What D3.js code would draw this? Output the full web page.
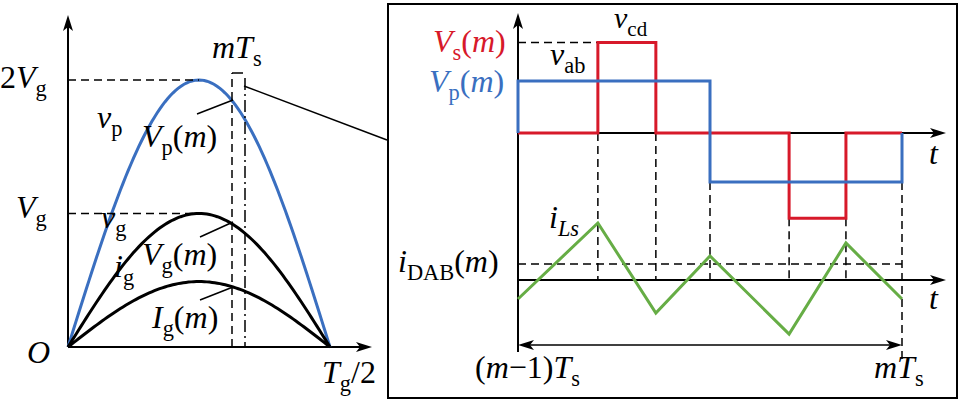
<!DOCTYPE html>
<html><head><meta charset="utf-8">
<script src="https://cdn.jsdelivr.net/npm/d3@7"></script>
<style>body{margin:0;background:#fff}text{font-family:"Liberation Serif",serif;}</style>
</head><body>
<svg id="c" width="963" height="402"></svg>
<script>
// ---- data ----
const leftCurves = ["vp","vg","ig"];
const leftPeaks = [2, 1, 0.49];          // in units of Vg
const leftColors = ["#3a6fc0","#000","#000"];
const tBreaks = [0, 0.208, 0.359, 0.5, 0.706, 0.854, 1]; // fraction of Ts
const vabVals = [1, 1, 1, -0.94, -0.94, -0.94];          // per segment
const vcdVals = [0, 1.74, 0, 0, -1.64, 0];               // per segment
const iLsVals = [-19, 57, -33, 24, -54, 37, -19];        // at breakpoints
const iDAB = 16;

const svg = d3.select("#c");
const RED="#d7192a", BLUE="#3a6fc0", GREEN="#66ad45";
const FS=32;
function arrow(g,x,y,dir){
  let p;
  if(dir==="up") p=[[x,y],[x-5,y+16],[x,y+12],[x+5,y+16]];
  else if(dir==="right") p=[[x,y],[x-16,y-5],[x-12,y],[x-16,y+5]];
  else p=[[x,y],[x+16,y-5],[x+12,y],[x+16,y+5]];
  g.append("path").attr("d",d3.line()(p)+"Z").attr("fill","#000");
}
function label(x,y,parts,color,size){
  const fs=size||FS;
  const t=svg.append("text").attr("x",x).attr("y",y).attr("fill",color||"#000").attr("font-size",fs);
  parts.forEach(p=>{
    const s=t.append("tspan").text(p.t);
    if(p.i) s.attr("font-style","italic");
    if(p.sub){ s.attr("font-size",fs*0.7).attr("dy",8); }
    if(p.up){ s.attr("dy",-8); }
  });
  return t;
}
// ---- left panel ----
const xL = d3.scaleLinear().domain([0,1]).range([68,330]);
const yL = d3.scaleLinear().domain([0,2]).range([347,80]);
const gL = svg.append("g");
gL.append("line").attr("x1",68).attr("x2",68).attr("y1",347).attr("y2",25).attr("stroke","#000").attr("stroke-width",2);
arrow(gL,68,15,"up");
gL.append("line").attr("x1",68).attr("x2",360).attr("y1",347).attr("y2",347).attr("stroke","#000").attr("stroke-width",2);
arrow(gL,372,347,"right");
const samples = d3.range(0,1.0001,0.01);
leftPeaks.forEach((a,k)=>{
  gL.append("path").attr("d",d3.line().x(u=>xL(u)).y(u=>yL(a*Math.sin(Math.PI*u)))(samples))
    .attr("fill","none").attr("stroke",leftColors[k]).attr("stroke-width",3);
});
[2,1].forEach(v=>gL.append("line").attr("x1",68).attr("x2",xL(0.5)).attr("y1",yL(v)).attr("y2",yL(v))
  .attr("stroke","#000").attr("stroke-width",1.5).attr("stroke-dasharray","8,5"));
gL.append("path").attr("d","M232,347 V73").attr("fill","none").attr("stroke","#000").attr("stroke-width",1.5).attr("stroke-dasharray","8,5");
gL.append("path").attr("d","M232,73 H243 M232,347 H245").attr("fill","none").attr("stroke","#000").attr("stroke-width",1.5);
gL.append("line").attr("x1",245).attr("x2",245).attr("y1",78).attr("y2",347).attr("stroke","#000").attr("stroke-width",1.5).attr("stroke-dasharray","12,4,2,4");
gL.append("line").attr("x1",244).attr("x2",387).attr("y1",86).attr("y2",140).attr("stroke","#000").attr("stroke-width",1.5);
[[197,114,233,100],[200,237,233,222],[200,300,233,287]].forEach(d=>
  gL.append("line").attr("x1",d[0]).attr("y1",d[1]).attr("x2",d[2]).attr("y2",d[3]).attr("stroke","#000").attr("stroke-width",1.5));
label(212,58,[{t:"m",i:1},{t:"T",i:1},{t:"s",sub:1}]);
label(0,88,[{t:"2"},{t:"V",i:1},{t:"g",sub:1}]);
label(16,218,[{t:"V",i:1},{t:"g",sub:1}]);
label(97,128,[{t:"v",i:1},{t:"p",sub:1}]);
label(142,147,[{t:"V",i:1},{t:"p",sub:1},{t:"(",up:1},{t:"m",i:1},{t:")"}]);
label(101,228,[{t:"v",i:1},{t:"g",sub:1}]);
label(142,265,[{t:"V",i:1},{t:"g",sub:1},{t:"(",up:1},{t:"m",i:1},{t:")"}]);
label(114,277,[{t:"i",i:1},{t:"g",sub:1}]);
label(152,328,[{t:"I",i:1},{t:"g",sub:1},{t:"(",up:1},{t:"m",i:1},{t:")"}]);
label(27,363,[{t:"O",i:1}]);
label(322,383,[{t:"T",i:1},{t:"g",sub:1},{t:"/2",up:1}]);
// ---- right panel ----
svg.append("rect").attr("x",388).attr("y",4).attr("width",569).attr("height",394).attr("fill","none").attr("stroke","#000").attr("stroke-width",2);
const xR = d3.scaleLinear().domain([0,1]).range([518,902]);
const yV = d3.scaleLinear().domain([0,1]).range([133,81]);
const yI = d3.scaleLinear().domain([0,10]).range([280,270]);
const gR = svg.append("g");
gR.append("line").attr("x1",518).attr("x2",518).attr("y1",352).attr("y2",25).attr("stroke","#000").attr("stroke-width",2);
arrow(gR,518,13,"up");
[133,280].forEach(y=>{gR.append("line").attr("x1",518).attr("x2",935).attr("y1",y).attr("y2",y).attr("stroke","#000").attr("stroke-width",2);arrow(gR,946,y,"right");});
const dash=(x1,y1,x2,y2)=>gR.append("line").attr("x1",x1).attr("y1",y1).attr("x2",x2).attr("y2",y2).attr("stroke","#000").attr("stroke-width",1.5).attr("stroke-dasharray","8,5");
dash(518,yV(vcdVals[1]),xR(tBreaks[1]),yV(vcdVals[1]));
dash(518,yI(iDAB),xR(1),yI(iDAB));
[[1,133],[2,133],[3,yV(vabVals[3])],[4,yV(vcdVals[4])],[5,yV(vcdVals[4])]].forEach(([k,y])=>dash(xR(tBreaks[k]),y,xR(tBreaks[k]),yI(0)));
dash(xR(1),yV(vabVals[5]),xR(1),360);
function stepPts(vals){const p=[];vals.forEach((v,k)=>{p.push([xR(tBreaks[k]),yV(v)]);p.push([xR(tBreaks[k+1]),yV(v)]);});return p;}
gR.append("path").attr("d",d3.line()([[xR(0),yV(0)],...stepPts(vcdVals),[xR(1),yV(0)]])).attr("fill","none").attr("stroke",RED).attr("stroke-width",3);
gR.append("path").attr("d",d3.line()([[xR(0),yV(0)],...stepPts(vabVals),[xR(1),yV(0)]])).attr("fill","none").attr("stroke",BLUE).attr("stroke-width",3);
gR.append("path").attr("d",d3.line().x((d,k)=>xR(tBreaks[k])).y(d=>yI(d))(iLsVals)).attr("fill","none").attr("stroke",GREEN).attr("stroke-width",3);
gR.append("line").attr("x1",530).attr("x2",890).attr("y1",345).attr("y2",345).attr("stroke","#000").attr("stroke-width",1.5);
arrow(gR,518,345,"left"); arrow(gR,902,345,"right");
label(433,52,[{t:"V",i:1},{t:"s",sub:1},{t:"(",up:1},{t:"m",i:1},{t:")"}],RED);
label(429,92,[{t:"V",i:1},{t:"p",sub:1},{t:"(",up:1},{t:"m",i:1},{t:")"}],BLUE);
label(550,65,[{t:"v",i:1},{t:"ab",sub:1}]);
label(614,28,[{t:"v",i:1},{t:"cd",sub:1}],null,30);
label(929,164,[{t:"t",i:1}]);
label(929,309,[{t:"t",i:1}]);
label(549,228,[{t:"i",i:1},{t:"Ls",sub:1,i:1}]);
label(398,272,[{t:"i",i:1},{t:"DAB",sub:1},{t:"(",up:1},{t:"m",i:1},{t:")"}]);
label(475,378,[{t:"("},{t:"m",i:1},{t:"−1)"},{t:"T",i:1},{t:"s",sub:1}]);
label(874,378,[{t:"m",i:1},{t:"T",i:1},{t:"s",sub:1}]);
</script>
</body></html>
